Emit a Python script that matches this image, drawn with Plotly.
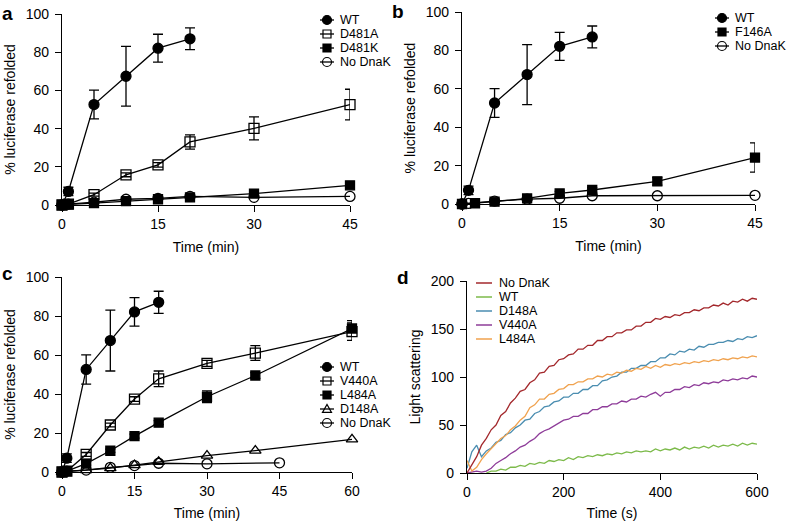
import plotly.graph_objects as go

W, H = 788, 521
FONT = "Liberation Sans, Arial, Helvetica, sans-serif"

# ---------------- data ----------------
# WT refolding (shared by panels a, b, c)
wt_time = [0, 1, 5, 10, 15, 20]
wt_refold = [0, 7.1, 52.6, 67.4, 82.1, 87.0]
wt_err = [0, 2.2, 7.5, 15.6, 7.3, 5.7]

# panel a
a_time = [0, 1, 5, 10, 15, 20, 30, 45]
a_d481a = [0, 0.5, 5.4, 15.8, 21.0, 33.0, 40.1, 52.6]
a_d481a_err = [0, 0, 0.8, 1.0, 1.2, 3.7, 6.0, 8.0]
a_d481k = [0, 0.3, 1.0, 2.0, 3.0, 4.0, 6.0, 10.3]
a_d481k_err = [0, 0, 0.3, 0.5, 0.5, 0.8, 1.0, 1.0]
a_nodnak = [0, 0.5, 1.5, 3.0, 3.5, 4.5, 4.0, 4.5]

# panel b
b_f146a_time = [0, 2, 5, 10, 15, 20, 30, 45]
b_f146a = [0, 0.4, 1.2, 2.9, 5.5, 7.3, 11.8, 24.2]
b_f146a_err = [0, 0, 0.5, 0.8, 1.0, 1.2, 2.0, 7.6]
b_nodnak_time = [0, 1, 5, 10, 15, 20, 30, 45]
b_nodnak = [0, 0.3, 1.5, 2.5, 3.0, 4.3, 4.3, 4.5]

# panel c
c_time = [0, 1, 5, 10, 15, 20, 30, 40, 60]
c_v440a = [0, 0.5, 9.0, 24.1, 37.4, 47.8, 55.7, 61.0, 72.0]
c_v440a_err = [0, 0, 1.0, 1.0, 1.2, 4.0, 1.5, 3.8, 4.5]
c_l484a = [0, 0.5, 4.3, 10.9, 18.4, 25.3, 38.6, 49.5, 73.6]
c_l484a_err = [0, 0, 0.8, 0.8, 1.0, 1.0, 3.0, 1.5, 4.0]
c_d148a_time = [0, 5, 10, 15, 20, 30, 40, 60]
c_d148a = [0, 1.0, 2.0, 3.5, 5.2, 8.4, 11.0, 16.7]
c_nodnak_time = [0, 1, 5, 10, 15, 20, 30, 45]
c_nodnak = [0, 0.5, 1.0, 2.4, 3.3, 4.5, 4.2, 4.7]

# panel d (light scattering, sampled every 10 s)
d_time = list(range(0, 601, 10))
d_wt_time = list(range(40, 601, 10))
d_nodnak = [0, 9, 17, 29, 36, 45, 50, 60, 64, 73,
            78, 85, 87, 94, 97, 104, 105, 111, 112, 118,
            119, 123, 124, 129, 129, 133, 133, 138, 138, 142,
            142, 146, 146, 149, 149, 153, 153, 157, 157, 161,
            160, 163, 162, 165, 164, 167, 167, 170, 169, 172,
            172, 175, 174, 177, 175, 179, 178, 181, 179, 182,
            181]
d_wt = [0, 2, 2, 4, 3, 6,
        6, 8, 7, 10, 9, 11, 10, 13, 12, 14,
        13, 16, 14, 17, 16, 18, 17, 19, 18, 20,
        19, 21, 20, 22, 21, 23, 22, 23, 22, 25,
        23, 25, 24, 26, 24, 27, 25, 27, 26, 28,
        26, 29, 27, 29, 28, 30, 28, 31, 29, 31,
        30]
d_d148a = [5, 22, 29, 17, 23, 26, 32, 34, 40, 42,
           47, 50, 55, 56, 62, 64, 69, 70, 74, 75,
           79, 79, 83, 83, 87, 87, 91, 91, 96, 97,
           100, 101, 105, 105, 109, 109, 112, 112, 116, 116,
           120, 120, 124, 123, 127, 126, 129, 128, 132, 131,
           134, 134, 136, 136, 138, 137, 140, 139, 142, 141,
           143]
d_v440a = [0, 1, 2, 1, 2, 5, 10, 13, 16, 20,
           23, 27, 29, 33, 36, 41, 44, 46, 49, 52,
           55, 56, 59, 59, 62, 62, 66, 66, 69, 69,
           72, 72, 75, 74, 77, 77, 80, 79, 82, 84,
           80, 84, 84, 87, 87, 90, 89, 92, 91, 94,
           93, 95, 94, 97, 96, 98, 97, 99, 98, 101,
           100]
d_l484a = [13, 2, 6, 14, 20, 25, 30, 36, 39, 45,
           49, 55, 59, 68, 71, 77, 77, 82, 83, 87,
           88, 92, 92, 95, 95, 98, 98, 101, 100, 103,
           102, 105, 104, 107, 106, 109, 108, 111, 109, 112,
           110, 113, 112, 114, 113, 115, 114, 116, 115, 117,
           116, 118, 117, 119, 118, 120, 119, 121, 120, 122,
           121]

d_colors = {"No DnaK": "#a3282c", "WT": "#7cba4a", "D148A": "#4a8db0",
            "V440A": "#8e3c99", "L484A": "#f0a24e"}

# ---------------- figure ----------------
fig = go.Figure()

def refold_trace(x, y, err, symbol, size, ax):
    kw = dict(x=x, y=y, mode="lines+markers", xaxis="x" + ax, yaxis="y" + ax,
              line=dict(color="black", width=1.3),
              marker=dict(symbol=symbol, size=size, color="black",
                          line=dict(color="black", width=1.3)),
              cliponaxis=False, showlegend=False, hoverinfo="skip")
    if err is not None:
        kw["error_y"] = dict(type="data", array=err, visible=True,
                             color="black", thickness=1.3, width=5)
    fig.add_trace(go.Scatter(**kw))

# panel a
refold_trace(a_time, a_nodnak, None, "circle-open", 10, "")
refold_trace(a_time, a_d481k, a_d481k_err, "square", 9, "")
refold_trace(a_time, a_d481a, a_d481a_err, "square-open", 10, "")
refold_trace(wt_time, wt_refold, wt_err, "circle", 10, "")
# panel b
refold_trace(b_nodnak_time, b_nodnak, None, "circle-open", 10, "2")
refold_trace(b_f146a_time, b_f146a, b_f146a_err, "square", 9, "2")
refold_trace(wt_time, wt_refold, wt_err, "circle", 10, "2")
# panel c
refold_trace(c_nodnak_time, c_nodnak, None, "circle-open", 10, "3")
refold_trace(c_d148a_time, c_d148a, None, "triangle-up-open", 10, "3")
refold_trace(c_time, c_l484a, c_l484a_err, "square", 9, "3")
refold_trace(c_time, c_v440a, c_v440a_err, "square-open", 10, "3")
refold_trace(wt_time, wt_refold, wt_err, "circle", 10, "3")
# panel d
for name, xs, ys in [("WT", d_wt_time, d_wt), ("V440A", d_time, d_v440a),
                     ("D148A", d_time, d_d148a), ("L484A", d_time, d_l484a),
                     ("No DnaK", d_time, d_nodnak)]:
    fig.add_trace(go.Scatter(x=xs, y=ys, mode="lines", xaxis="x4", yaxis="y4",
                             line=dict(color=d_colors[name], width=1.3),
                             showlegend=False, hoverinfo="skip"))

def axis(domain, rng, tickvals, title, anchor, is_y):
    d = dict(domain=domain, range=rng, tickvals=tickvals, showline=True,
             linecolor="black", linewidth=1.3, ticks="outside", ticklen=6,
             tickwidth=1.3, tickcolor="black", showgrid=False, zeroline=False,
             tickfont=dict(size=14, color="black", family=FONT),
             title=dict(text=title, font=dict(size=14, color="black", family=FONT),
                        standoff=6 if is_y else 11),
             anchor=anchor, fixedrange=True)
    if is_y:
        d["ticklabelstandoff"] = 3
    return d

def xd(a, b): return [a / W, b / W]
def yd(top, bottom): return [1 - bottom / H, 1 - top / H]

fig.update_layout(
    xaxis=axis(xd(62, 350), [0, 45], [0, 15, 30, 45], "Time (min)", "y", False),
    yaxis=axis(yd(14, 205), [0, 100], [0, 20, 40, 60, 80, 100], "% luciferase refolded", "x", True),
    xaxis2=axis(xd(462, 755), [0, 45], [0, 15, 30, 45], "Time (min)", "y2", False),
    yaxis2=axis(yd(12, 204), [0, 100], [0, 20, 40, 60, 80, 100], "% luciferase refolded", "x2", True),
    xaxis3=axis(xd(62, 352), [0, 60], [0, 15, 30, 45, 60], "Time (min)", "y3", False),
    yaxis3=axis(yd(277, 472), [0, 100], [0, 20, 40, 60, 80, 100], "% luciferase refolded", "x3", True),
    xaxis4=axis(xd(467, 757), [0, 600], [0, 200, 400, 600], "Time (s)", "y4", False),
    yaxis4=axis(yd(281, 473), [0, 200], [0, 50, 100, 150, 200], "Light scattering", "x4", True),
)

# ---------------- legends (manual, compact like the original) ----------------
shapes = []
annotations = []
LEG_FONT = 12.5
LEG_DY = 14

def glyph(cx, cy, kind, filled, color="black", half=7, r=4.5):
    xp, yp = cx / W, 1 - cy / H
    common = dict(xref="paper", yref="paper", xsizemode="pixel", ysizemode="pixel",
                  xanchor=xp, yanchor=yp, layer="above")
    shapes.append(dict(type="line", x0=-half, x1=half, y0=0, y1=0,
                       line=dict(color=color, width=1.3), **common))
    fill = color if filled else "rgba(0,0,0,0)"
    if kind == "circle":
        shapes.append(dict(type="circle", x0=-r, x1=r, y0=-r, y1=r, fillcolor=fill,
                           line=dict(color=color, width=1.2), **common))
    elif kind == "square":
        s = r - 0.5
        shapes.append(dict(type="rect", x0=-s, x1=s, y0=-s, y1=s, fillcolor=fill,
                           line=dict(color=color, width=1.2), **common))
    elif kind == "triangle":
        shapes.append(dict(type="path", path=f"M{-r},{-r*0.75} L{r},{-r*0.75} L0,{r} Z",
                           fillcolor=fill, line=dict(color=color, width=1.2), **common))

def label(x, y, text):
    annotations.append(dict(x=x / W, y=1 - y / H, xref="paper", yref="paper",
                            text=text, showarrow=False, xanchor="left", yanchor="middle",
                            borderpad=0,
                            font=dict(size=LEG_FONT, color="black", family=FONT)))

def legend(mx, tx, y0, entries):
    for i, (name, kind, filled) in enumerate(entries):
        y = y0 + i * LEG_DY
        glyph(mx, y, kind, filled)
        label(tx, y, name)

legend(327, 339, 20, [("WT", "circle", True), ("D481A", "square", False),
                      ("D481K", "square", True), ("No DnaK", "circle", False)])
legend(722, 734, 18, [("WT", "circle", True), ("F146A", "square", True),
                      ("No DnaK", "circle", False)])
legend(327, 339, 367, [("WT", "circle", True), ("V440A", "square", False),
                       ("L484A", "square", True), ("D148A", "triangle", False),
                       ("No DnaK", "circle", False)])
for i, name in enumerate(["No DnaK", "WT", "D148A", "V440A", "L484A"]):
    y = 283 + i * LEG_DY
    shapes.append(dict(type="line", xref="paper", yref="paper",
                       x0=476 / W, x1=492 / W, y0=1 - y / H, y1=1 - y / H,
                       line=dict(color=d_colors[name], width=1.5)))
    label(498, y, name)

# panel letters
for letter, x, y in [("a", 8, 13), ("b", 398, 11), ("c", 8, 273), ("d", 403, 277)]:
    annotations.append(dict(x=x / W, y=1 - y / H, xref="paper", yref="paper",
                            text=f"<b>{letter}</b>", showarrow=False,
                            xanchor="center", yanchor="middle",
                            font=dict(size=19, color="black", family=FONT)))

fig.update_layout(
    width=W, height=H, template="none",
    margin=dict(l=0, r=0, t=0, b=0),
    paper_bgcolor="white", plot_bgcolor="white",
    font=dict(family=FONT, size=14, color="black"),
    shapes=shapes, annotations=annotations, showlegend=False,
)

fig.write_html("out.html", config={"displayModeBar": False},
               post_script="document.body.style.margin='0';document.body.style.overflow='hidden';")
